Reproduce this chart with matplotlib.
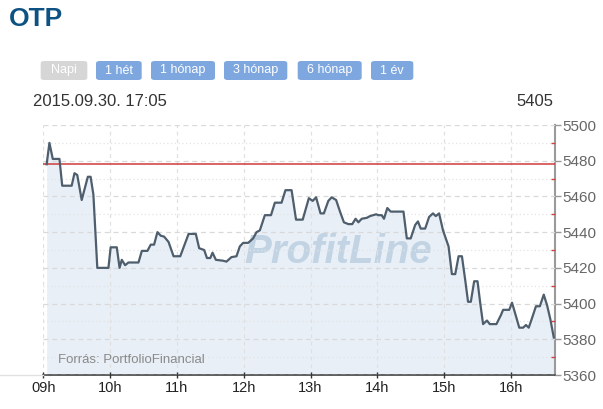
import matplotlib
matplotlib.use("Agg")
import matplotlib.pyplot as plt
from matplotlib.patches import FancyBboxPatch
from matplotlib.lines import Line2D
from matplotlib.ticker import MultipleLocator, FixedLocator

plt.rcParams['font.family'] = ['Liberation Sans', 'DejaVu Sans']

# ---- data ----
title = "OTP"
buttons = ["Napi", "1 hét", "1 hónap", "3 hónap", "6 hónap", "1 év"]
timestamp = "2015.09.30. 17:05"
last_price = "5405"
prev_close = 5478
source = "Forrás: PortfolioFinancial"
watermark = "ProfitLine"
hour_labels = ["09h", "10h", "11h", "12h", "13h", "14h", "15h", "16h"]
hours = [9, 10, 11, 12, 13, 14, 15, 16]

minutes = [3, 5.5, 8.5, 14.5, 17, 25.5, 28, 30.5, 34.5, 40, 42.5, 45, 48.5, 58.5,
           60.5, 66, 68.5, 70.5, 73.5, 76.5, 85.5, 88.5, 93.5, 96.5, 99.5, 102.5,
           105.5, 108.5, 112.5, 117, 123, 130.5, 137, 140, 144.5, 147, 150, 152,
           155, 161.5, 164.5, 169, 173.5, 176.5, 179.5, 184, 188.5, 191.5, 194.5,
           199, 204.5, 208, 214, 217.5, 223, 227, 233, 238.5, 242, 245, 249, 252,
           256, 259, 263, 266.5, 270, 274, 277.5, 280.5, 283, 286, 290.5, 293.5,
           299, 301, 304, 306, 309, 312, 323.5, 326.5, 330, 334, 336.5, 339, 343,
           346.5, 350, 352.5, 355.5, 359, 364, 367, 370, 373, 376, 379, 381.5, 384,
           387, 390, 392.5, 395, 398.5, 401, 407, 411, 413, 418.5, 421, 424.5,
           427.5, 431, 433.5, 436, 438.5, 442.5, 446, 449.5, 452.5, 455.5, 458.5]
prices = [5478, 5490, 5481, 5481, 5466, 5466, 5473, 5472, 5458, 5471, 5471, 5461,
          5420, 5420, 5431.5, 5431.5, 5420, 5424.5, 5421.5, 5423, 5423, 5429.5,
          5429.5, 5433, 5433, 5440, 5438, 5437.5, 5434.5, 5426.5, 5426.5, 5439,
          5439, 5431, 5430, 5425.5, 5425.5, 5428.5, 5424.5, 5424, 5423.5, 5426,
          5426.5, 5432, 5434, 5434, 5436.5, 5440, 5441, 5449.5, 5449.5, 5456.5,
          5456.5, 5463.5, 5463.5, 5447, 5447, 5459, 5457.5, 5459.5, 5450.5, 5450.5,
          5457.5, 5459.5, 5458, 5451.5, 5445.5, 5444.5, 5444.5, 5447.5, 5445.5,
          5447.5, 5448, 5449, 5450, 5449.5, 5449.5, 5447.5, 5453.5, 5451.5, 5451.5,
          5436.5, 5436.5, 5444, 5446, 5442, 5442, 5448.5, 5450.5, 5449, 5450.5,
          5441, 5432, 5416.5, 5416.5, 5426.5, 5426.5, 5413, 5401, 5401, 5412.5,
          5412.5, 5400, 5388.5, 5390.5, 5388.5, 5388.5, 5393.5, 5396.5, 5396.5,
          5400.5, 5393, 5386.5, 5386.5, 5388, 5386.5, 5391, 5398.5, 5398.5, 5405,
          5399, 5391, 5381]

x = [9 + m / 60.0 for m in minutes]

W, H = 603, 409
fig = plt.figure(figsize=(W / 100, H / 100), dpi=100)

def fx(px):
    return px / W

def fy(py):
    return 1 - py / H

# axes: left 43.3px, right 555px, top 125px, bottom 375px
ax = fig.add_axes([fx(43.3), fy(375), fx(555) - fx(43.3), fy(125) - fy(375)])
ax.set_xlim(9, 9 + 459.6 / 60)
ax.set_ylim(5360, 5500)

ax.fill_between(x, prices, 5360, color="#e8eff7", zorder=1, linewidth=0)
ax.plot(x, prices, color="#4e5e6d", lw=1.6, zorder=4, solid_joinstyle="round")
ax.axhline(prev_close, color="#d03a3a", lw=1.1, zorder=3)

# watermark
ax.text(9 + (338 - 43.3) / 66.8, 5500 - (252 - 125) / 1.7857, watermark,
        fontsize=29, fontweight="bold", fontstyle="italic", color="#c2d4e3",
        ha="center", va="center", zorder=2)

# grid
ax.set_axisbelow(False)
ax.yaxis.set_major_locator(MultipleLocator(20))
ax.yaxis.set_minor_locator(MultipleLocator(10))
ax.xaxis.set_major_locator(FixedLocator(hours))
ax.set_xticklabels(hour_labels)
ax.grid(True, which="major", axis="y", color="#d9d9d9", lw=0.9,
        linestyle=(0, (4, 3)), zorder=1.5)
ax.grid(True, which="major", axis="x", color="#e0e0e0", lw=0.9,
        linestyle=(0, (3, 3)), zorder=1.5)
ax.grid(True, which="minor", axis="y", color="#e4e4e4", lw=0.9,
        linestyle=(0, (1, 2)), zorder=1.5)

ax.yaxis.tick_right()
ax.tick_params(axis="y", which="major", direction="out", length=4, width=1,
               color="#999999", labelcolor="#666666", labelsize=11, pad=1)
ax.tick_params(axis="y", which="minor", direction="in", length=3, width=1,
               color="#d04040")
ax.tick_params(axis="x", which="major", direction="inout", length=5, width=1,
               color="#333333", labelcolor="#222222", labelsize=10.5, pad=2)

for s in ["left", "top"]:
    ax.spines[s].set_visible(False)
ax.spines["right"].set_color("#9a9a9a")
ax.spines["right"].set_linewidth(1.5)
ax.spines["bottom"].set_color("#444444")
ax.spines["bottom"].set_linewidth(1.2)
ax.patch.set_alpha(0)

# faint baseline extension to the left
fig.add_artist(Line2D([0, fx(43.3)], [fy(375), fy(375)], color="#e2e2e2", lw=1))

# source
ax.text(9 + (58.3 - 43.3) / 66.8, 5360 + (375 - 360.5) / 1.7857, source,
        fontsize=9.5, color="#8a8a8a", ha="left", va="center", zorder=5)

# title
fig.text(fx(9), fy(19.5), title, fontsize=19, fontweight="bold",
         color="#0d5283", ha="left", va="center")

# buttons
btn_x = [(40.7, 87.3), (96, 141.7), (151, 215), (224, 287.3), (297.7, 361.7), (371, 413.3)]
for i, (label, (x0, x1)) in enumerate(zip(buttons, btn_x)):
    face = "#d6d6d6" if i == 0 else "#7ea7df"
    p = FancyBboxPatch((fx(x0), fy(80)), fx(x1) - fx(x0), fy(61) - fy(80),
                       boxstyle="round,pad=0,rounding_size=0.006",
                       transform=fig.transFigure, facecolor=face,
                       edgecolor="none")
    fig.add_artist(p)
    fig.text(fx((x0 + x1) / 2), fy(70.5), label, fontsize=9, color="white",
             ha="center", va="center")

# header texts
fig.text(fx(33), fy(102), timestamp, fontsize=12, color="#333333",
         ha="left", va="center")
fig.text(fx(553), fy(102), last_price, fontsize=12, color="#333333",
         ha="right", va="center")

fig.savefig("out.png", dpi=100, facecolor="white")
